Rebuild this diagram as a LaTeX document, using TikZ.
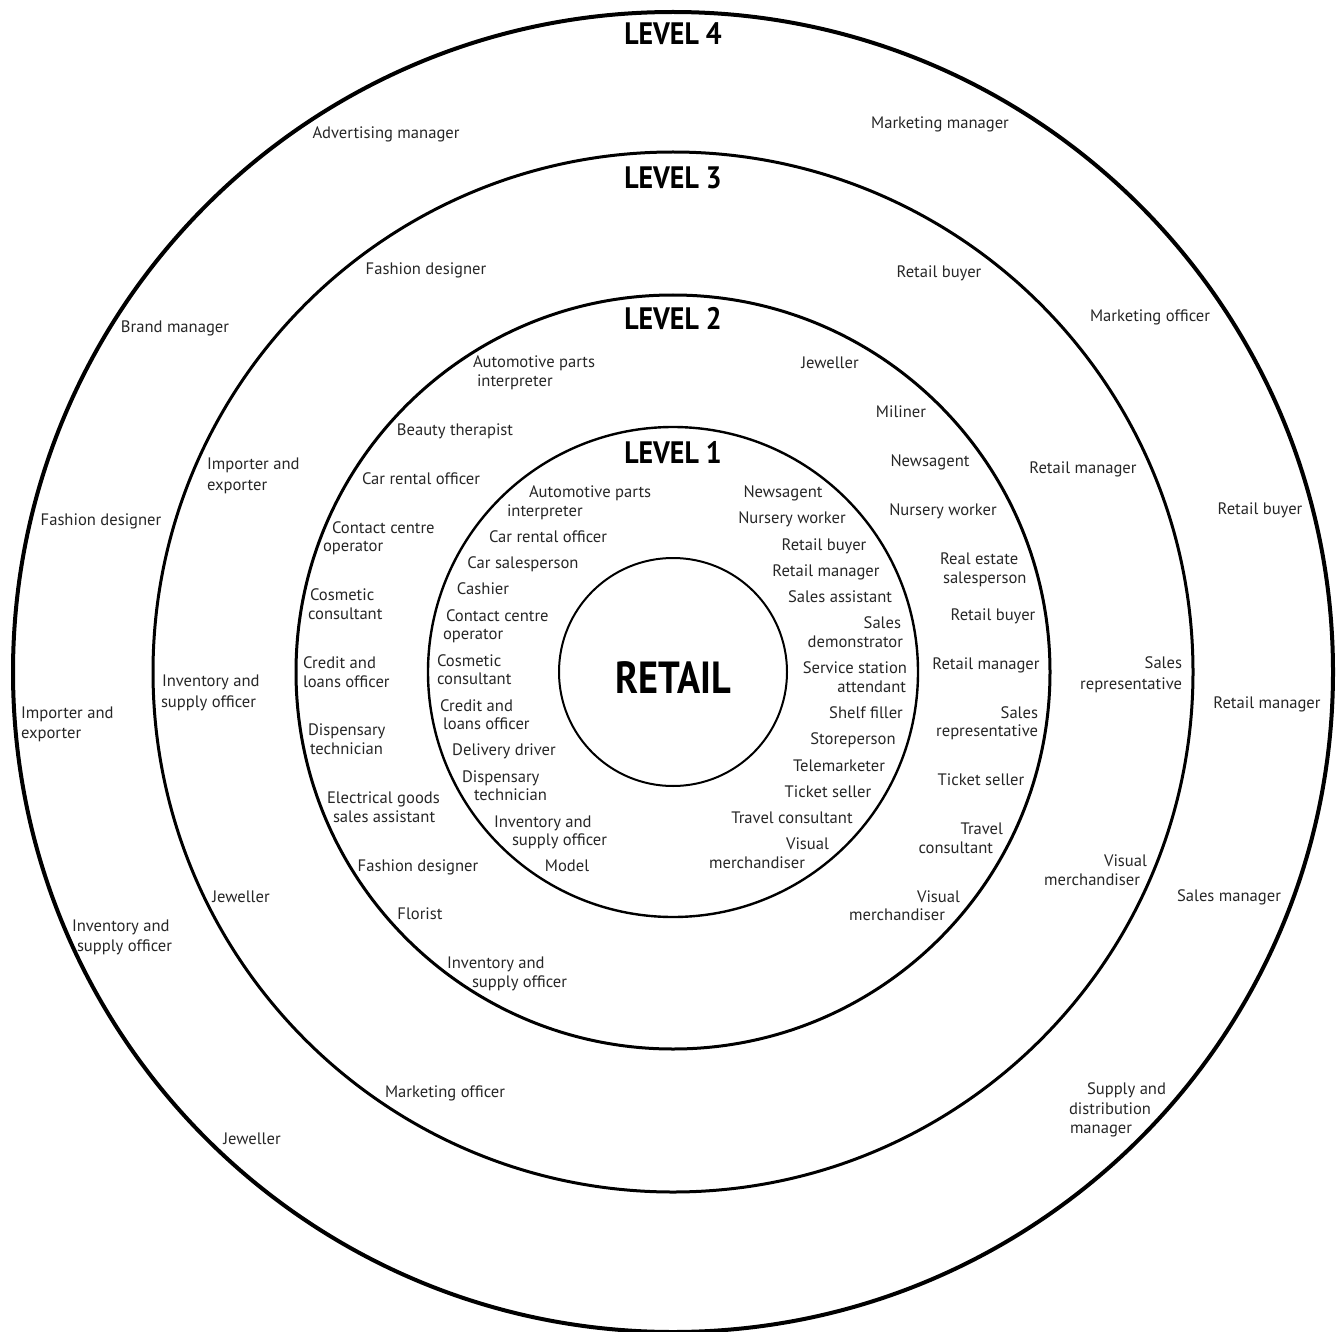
\documentclass[tikz,border=0pt]{standalone}
\usepackage{fontspec}
\newfontfamily\labfamily{PT Sans}
\newfontfamily\headfamily[FakeStretch=0.9]{PT Sans Bold}
\newfontfamily\retailfamily[FakeStretch=0.85]{PT Sans Bold}
\begin{document}
\begin{tikzpicture}[x=1pt,y=-1pt,
  lab/.style={font=\labfamily\fontsize{16.6}{19}\selectfont, text=black!85, inner sep=0pt, outer sep=0pt, yshift=-4pt},
  head/.style={font=\headfamily\fontsize{31}{31}\selectfont, inner sep=0pt, outer sep=0pt},
  retail/.style={font=\retailfamily\fontsize{45}{45}\selectfont, inner sep=0pt, outer sep=0pt},
  ring/.style={circle, draw=black, inner sep=0pt, outer sep=0pt, minimum size=#1}]
\useasboundingbox (0,0) rectangle (1341,1332);
\coordinate (c) at (673,672);
\node[ring=1320pt, line width=4pt] (ring4) at (c) {};
\node[ring=1040pt, line width=3pt] (ring3) at (c) {};
\node[ring=754pt, line width=3pt] (ring2) at (c) {};
\node[ring=490pt, line width=2.4pt] (ring1) at (c) {};
\node[ring=228pt, line width=2pt] (core) at (c) {};
\node[retail] (retail) at (673,678) {RETAIL};
\node[head] (lv4) at (673,34) {LEVEL 4};
\node[head] (lv3) at (673,178) {LEVEL 3};
\node[head] (lv2) at (673,319) {LEVEL 2};
\node[head] (lv1) at (673,453) {LEVEL 1};
% centred single-line labels
\foreach \x/\y/\t [count=\i] in {
 386/132/Advertising manager, 940/122/Marketing manager, 175/326/Brand manager,
 1150/315/Marketing officer, 101/519/Fashion designer, 1260/508/Retail buyer,
 1267/702/Retail manager, 1229/895/Sales manager, 252/1138/Jeweller,
 426/268/Fashion designer, 939/271/Retail buyer, 1083/467/Retail manager,
 241/896/Jeweller, 445/1091/Marketing officer,
 830/362/Jeweller, 455/429/Beauty therapist, 901/411/Miliner,
 421/478/Car rental officer, 930/460/Newsagent, 943/509/Nursery worker,
 993/614/Retail buyer, 986/663/Retail manager, 981/779/Ticket seller,
 418/865/Fashion designer, 420/913/Florist,
 783/491/Newsagent, 548/536/Car rental officer, 792/517/Nursery worker,
 523/562/Car salesperson, 824/544/Retail buyer, 483/588/Cashier,
 826/570/Retail manager, 840/596/Sales assistant, 866/712/Shelf filler,
 504/749/Delivery driver, 853/738/Storeperson, 839/765/Telemarketer,
 828/791/Ticket seller, 567/865/Model, 792/817/Travel consultant}
 \node[lab, anchor=mid] (c\i) at (\x,\y) {\t};
% left-aligned lines
\foreach \x/\y/\t [count=\i] in {
 21/712/Importer and, 21/732/exporter, 72/925/Inventory and, 77/945/supply officer,
 1087/1088/Supply and, 1069/1108/distribution, 1070/1127/manager,
 207/463/Importer and, 207/484/exporter, 162/680/Inventory and, 161/701/supply officer,
 473/361/Automotive parts, 477/380/interpreter, 332/527/Contact centre, 323/545/operator,
 310/594/Cosmetic, 308/613/consultant, 940/558/Real estate, 943/577/salesperson,
 303/662/Credit and, 303/681/loans officer, 308/729/Dispensary, 310/748/technician,
 327/797/Electrical goods, 333/816/sales assistant, 447/962/Inventory and, 472/981/supply officer,
 529/491/Automotive parts, 507/510/interpreter, 446/615/Contact centre, 443/633/operator,
 437/660/Cosmetic, 437/678/consultant, 440/705/Credit and, 443/723/loans officer,
 462/776/Dispensary, 474/794/technician, 494/821/Inventory and, 512/839/supply officer}
 \node[lab, anchor=mid west] (w\i) at (\x,\y) {\t};
% right-aligned lines
\foreach \x/\y/\t [count=\i] in {
 1182/662/Sales, 1182/683/representative, 1147/860/Visual, 1140/879/merchandiser,
 1038/712/Sales, 1038/730/representative, 1003/828/Travel, 993/847/consultant,
 960/896/Visual, 945/914/merchandiser,
 901/622/Sales, 903/641/demonstrator, 907/667/Service station, 906/686/attendant,
 829/843/Visual, 805/862/merchandiser}
 \node[lab, anchor=mid east] (e\i) at (\x,\y) {\t};
\end{tikzpicture}
\end{document}
